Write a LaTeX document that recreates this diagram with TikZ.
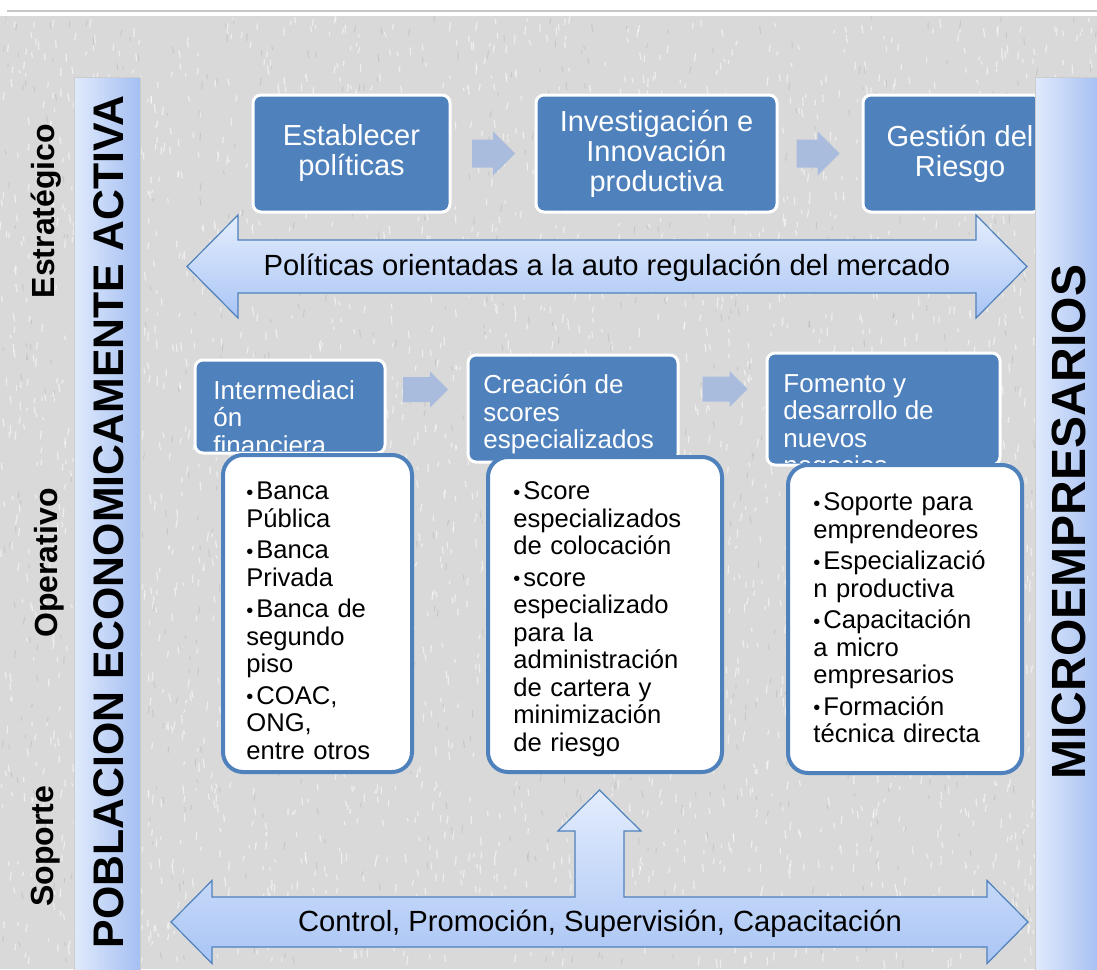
\documentclass[tikz,border=0pt]{standalone}
\usepackage{fontspec}
\setmainfont{Liberation Sans}

\definecolor{boxblue}{HTML}{4F81BD}
\definecolor{chevblue}{HTML}{A9BCDD}
\definecolor{barlight}{HTML}{E0EAFC}
\definecolor{bardark}{HTML}{A4BFF2}
\definecolor{arrtop}{HTML}{E4EDFD}
\definecolor{arrbot}{HTML}{A9C5F5}
\definecolor{bggray}{HTML}{D9D9D9}
\definecolor{linegray}{HTML}{C8C8C8}

\newcommand{\bitem}[1]{\par\hangindent=5pt\hangafter=1\noindent\makebox[5pt][l]{\raisebox{.4pt}{\fontsize{10}{10}\selectfont\textbullet}}#1}

\tikzset{
  bluebox/.style={draw=white, line width=1.5pt, fill=boxblue, rounded corners=4pt, inner sep=0pt},
  toptext/.style={text=white, align=center, font=\fontsize{14.5}{15}\selectfont},
  lowtext/.style={text=white, align=left, anchor=north west, inner sep=0pt, font=\fontsize{13}{13.75}\selectfont},
  listbox/.style={draw=boxblue, line width=2pt, fill=white, rounded corners=10pt, inner sep=0pt},
  listtext/.style={align=left, anchor=north west, inner sep=0pt, text width=88pt,
    font=\fontsize{12.8}{13.75}\selectfont, execute at begin node={\setlength{\parskip}{2pt}}},
  pics/chev/.style n args={3}{code={
    \fill[chevblue] (-#1,-#2) -- (#1-#3,-#2) -- (#1-#3,-#3) -- (#1,0) -- (#1-#3,#3) -- (#1-#3,#2) -- (-#1,#2) -- cycle;}},
  bigarrow/.style={top color=arrtop, bottom color=arrbot, draw=boxblue, line width=.6pt},
  arrtext/.style={font=\fontsize{14.6}{15}\selectfont},
  sidebar/.style={left color=barlight, right color=bardark, draw=gray!40, line width=.5pt},
  bartext/.style={rotate=90, font=\bfseries},
  level/.style={rotate=90, font=\fontsize{16}{16}\bfseries\selectfont}
}

\begin{document}
\begin{tikzpicture}[x=0.5pt, y=-0.5pt]
  \useasboundingbox (0,0) rectangle (1097,969);

  % textured page
  \fill[white] (0,0) rectangle (1097,969);
  \fill[bggray] (0,16) rectangle (1097,969);
  \pgfmathsetseed{42}
  \foreach \i in {1,...,3200} {
    \draw[white, opacity=.55, line width=.6pt] (rnd*1097, 16+rnd*945) -- ++(rand*1.5, 3+rnd*6);
  }
  \foreach \i in {1,...,900} {
    \draw[gray!70, opacity=.35, line width=.5pt] (rnd*1097, 16+rnd*945) -- ++(rand*1.5, 3+rnd*5);
  }
  \draw[linegray, line width=1pt] (7,11) -- (1097,11);

  % strategic row
  \node[bluebox, minimum width=98.5pt, minimum height=58.5pt] (est) at (351.5,153.5) {};
  \node[bluebox, minimum width=120.5pt, minimum height=58.5pt] (inv) at (656.5,153.5) {};
  \node[bluebox, minimum width=89pt, minimum height=58.5pt] (ges) at (952,153.5) {};
  \node[toptext] at (est) {Establecer\\políticas};
  \node[toptext] at (inv) {Investigación e\\Innovación\\productiva};
  \node[toptext] at (960,153.5) {Gestión del\\Riesgo};
  \coordinate (ca) at (493.5,153.5);
  \coordinate (cb) at (818,153.5);
  \pic at (ca) {chev={21.5}{14}{22}};
  \pic at (cb) {chev={21.5}{14}{22}};

  \draw[bigarrow] (187,266.5) -- (238,215) -- (238,240) -- (976,240) -- (976,215) -- (1027,266.5)
    -- (976,318) -- (976,293) -- (238,293) -- (238,318) -- cycle;
  \node[arrtext] (pol) at (607,268) {Políticas orientadas a la auto regulación del mercado};

  % operative row
  \node[bluebox, minimum width=95pt, minimum height=46.5pt] (int) at (290,406.5) {};
  \node[bluebox, minimum width=105pt, minimum height=53.5pt] (cre) at (573,408.5) {};
  \node[bluebox, minimum width=116.5pt, minimum height=56pt] (fom) at (883.5,409) {};
  \begin{scope}
    \clip (198,363) rectangle (382,450);
    \node[lowtext] at (213,380) {Intermediaci\\ón\\financiera};
  \end{scope}
  \begin{scope}
    \clip (471,358) rectangle (675,459);
    \node[lowtext] at (483,374) {Creación de\\scores\\especializados};
  \end{scope}
  \begin{scope}
    \clip (770,356) rectangle (997,462);
    \node[lowtext] at (783,374) {Fomento y\\desarrollo de\\nuevos\\negocios};
  \end{scope}
  \coordinate (cc) at (425.5,389.5);
  \coordinate (cd) at (725,389);
  \pic at (cc) {chev={22.5}{12.5}{18}};
  \pic at (cd) {chev={22.5}{12.5}{18}};

  \node[listbox, minimum width=94.5pt, minimum height=158.5pt] (ban) at (317.5,613.5) {};
  \node[listbox, minimum width=117pt, minimum height=157.5pt] (sco) at (605,614.5) {};
  \node[listbox, minimum width=117pt, minimum height=154pt] (sop) at (905,619) {};
  \node[listtext] at (246,468) {\bitem{Banca\\Pública}\bitem{Banca\\Privada}\bitem{Banca de\\segundo\\piso}\bitem{COAC,\\ONG,\\entre otros}};
  \node[listtext] at (513,468) {\bitem{Score\\especializados\\de colocación}\bitem{score\\especializado\\para la\\administración\\de cartera y\\minimización\\de riesgo}};
  \node[listtext] at (813,479) {\bitem{Soporte para\\emprendeores}\bitem{Especializació\\n productiva}\bitem{Capacitación\\a micro\\empresarios}\bitem{Formación\\técnica directa}};

  % support row
  \draw[bigarrow] (171,922) -- (212,880.5) -- (212,897) -- (575,897) -- (575,831) -- (558,831)
    -- (599.5,790) -- (641,831) -- (624,831) -- (624,897) -- (987,897) -- (987,880.5) -- (1028,922)
    -- (987,963.5) -- (987,947) -- (212,947) -- (212,963.5) -- cycle;
  \node[arrtext] (ctl) at (600,924) {Control, Promoción, Supervisión, Capacitación};

  % side bars
  \shade[sidebar] (74,77) rectangle (140,975);
  \shade[sidebar] (1035,77) rectangle (1100,975);
  \node[bartext, font=\fontsize{21.4}{22}\bfseries\selectfont] (pob) at (109,522) {POBLACION ECONOMICAMENTE ACTIVA};
  \node[bartext, font=\fontsize{24}{24}\bfseries\selectfont] (mic) at (1069,522) {MICROEMPRESARIOS};

  % levels
  \node[level] (lest) at (46,211) {Estratégico};
  \node[level] (lope) at (49,563) {Operativo};
  \node[level] (lsop) at (46,846) {Soporte};
\end{tikzpicture}
\end{document}
